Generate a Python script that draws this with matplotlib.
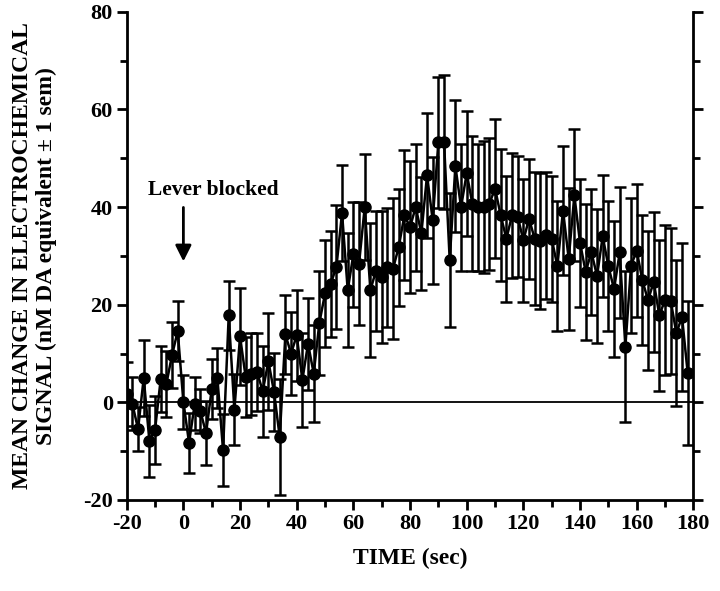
import numpy as np
import matplotlib
matplotlib.use("Agg")
import matplotlib.pyplot as plt

# time (sec), sampled every 2 s
time_s = np.arange(-20, 180, 2)

mean_change = [
    1.7, -0.3, -5.5, 5.0, -7.9, -5.6, 4.8, 3.8, 9.7, 14.6,
    0.1, -8.3, -0.3, -1.8, -6.3, 2.7, 5.0, -9.8, 17.8, -1.5,
    13.5, 5.1, 5.8, 6.2, 2.3, 8.4, 2.1, -7.1, 13.9, 10.0,
    13.7, 4.6, 12.0, 5.9, 16.3, 22.3, 24.3, 27.7, 38.8, 23.0,
    30.3, 28.4, 40.0, 23.0, 27.0, 25.7, 27.7, 27.4, 31.8, 38.3,
    35.9, 40.0, 34.6, 46.5, 37.3, 53.3, 53.3, 29.1, 48.4, 40.0,
    46.9, 40.7, 40.0, 40.0, 40.7, 43.8, 38.3, 33.5, 38.3, 38.0,
    33.2, 37.6, 33.5, 33.0, 34.2, 33.5, 27.9, 39.3, 29.4, 42.4,
    32.7, 26.7, 30.8, 25.9, 34.0, 27.9, 23.2, 30.7, 11.4, 28.0,
    31.1, 25.0, 20.9, 24.7, 17.8, 21.0, 20.8, 14.2, 17.5, 6.0,
]

sem = [
    6.5, 5.4, 4.5, 7.7, 7.4, 7.0, 6.8, 6.8, 6.7, 6.1,
    5.5, 6.1, 5.4, 4.5, 6.5, 6.2, 6.2, 7.4, 7.0, 7.3,
    9.9, 8.2, 8.4, 8.0, 9.3, 10.0, 8.0, 11.8, 8.0, 8.5,
    9.4, 9.7, 9.4, 10.0, 10.7, 11.0, 10.9, 12.7, 9.8, 11.7,
    10.8, 12.6, 10.8, 13.7, 12.3, 13.5, 12.2, 14.4, 12.0, 13.3,
    13.6, 13.0, 11.5, 12.8, 13.0, 13.4, 13.7, 13.7, 13.6, 13.0,
    12.8, 13.8, 13.0, 13.6, 13.5, 14.3, 13.5, 12.9, 12.8, 12.4,
    12.6, 12.3, 13.6, 13.9, 13.0, 12.9, 13.3, 13.2, 14.5, 13.5,
    13.1, 14.0, 13.0, 13.8, 12.5, 13.3, 14.0, 13.5, 15.5, 13.8,
    13.6, 13.3, 14.2, 14.3, 15.5, 15.3, 14.9, 14.9, 15.1, 14.8,
]

x_ticks = [-20, 0, 20, 40, 60, 80, 100, 120, 140, 160, 180]
y_ticks = [-20, 0, 20, 40, 60, 80]

plt.rcParams['font.family'] = ['Liberation Serif', 'DejaVu Serif']
plt.rcParams['font.weight'] = 'bold'
plt.rcParams['axes.unicode_minus'] = False

fig = plt.figure(figsize=(7.2, 5.91), dpi=100)
ax = fig.add_axes([0.176, 0.154, 0.787, 0.826])

ax.axhline(0, color='black', linewidth=1.3, zorder=1)
ax.errorbar(time_s, mean_change, yerr=sem, fmt='-o', color='black',
            markersize=8, linewidth=1.8, elinewidth=1.8, capsize=4,
            capthick=1.8, zorder=3)

ax.set_xlim(-20, 180)
ax.set_ylim(-20, 80)
ax.set_xticks(x_ticks)
ax.set_yticks(y_ticks)
ax.set_xticks(np.arange(-10, 180, 20), minor=True)
ax.set_yticks(np.arange(-10, 80, 20), minor=True)

ax.spines['top'].set_visible(False)
for s in ['left', 'bottom', 'right']:
    ax.spines[s].set_linewidth(2)
ax.tick_params(axis='both', which='major', direction='out', length=7, width=2,
               labelsize=16, pad=3)
ax.tick_params(axis='both', which='minor', direction='out', length=5, width=2)
ax.tick_params(axis='y', which='both', right=True)

ax.set_xlabel('TIME (sec)', fontsize=17, fontweight='bold', labelpad=10)
ax.set_ylabel('MEAN CHANGE IN ELECTROCHEMICAL\nSIGNAL (nM DA equivalent \u00b1 1 sem)',
              fontsize=17, fontweight='bold', linespacing=1.2)
ax.yaxis.set_label_coords(-0.123, 0.5)

ax.annotate('', xy=(0, 28.3), xytext=(0, 40.5),
            arrowprops=dict(arrowstyle='-|>', color='black', lw=2,
                            mutation_scale=24))
ax.text(10.5, 43.5, 'Lever blocked', fontsize=15.5, fontweight='bold',
        ha='center', va='center')

fig.savefig('out.png', dpi=100)
